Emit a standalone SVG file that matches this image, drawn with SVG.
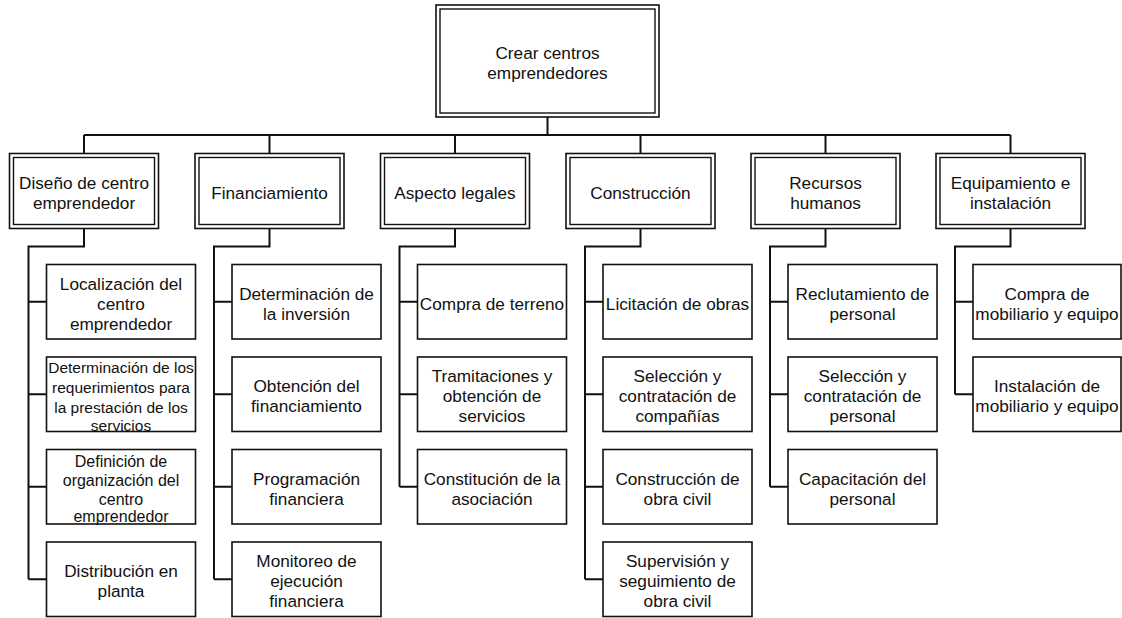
<svg xmlns="http://www.w3.org/2000/svg" width="1122" height="618" viewBox="0 0 1122 618">
  <style>
    .box { fill: #ffffff; stroke: #111111; stroke-width: 1.6; }
    .in { fill: none; stroke: #111111; stroke-width: 1.4; }
    .wire { fill: none; stroke: #111111; stroke-width: 2; }
    text { font-family: "Liberation Sans", Arial, sans-serif; font-size: 17.2px; fill: #111111; text-anchor: middle; }
    .s155 { font-size: 15.5px; }
    .s16 { font-size: 16px; }
  </style>
  <rect width="1122" height="618" fill="#ffffff"/>

  <!-- connectors -->
  <g id="connectors" class="wire">
    <path d="M547.5 117 V135 M84 135 H1010.5"/>
    <path d="M84 135 V153.5 M269.5 135 V153.5 M455 135 V153.5 M640.5 135 V153.5 M825.5 135 V153.5 M1010.5 135 V153.5"/>
    <!-- column 1 -->
    <path d="M84 228.5 V246.5 H28.5 V579.25"/>
    <path d="M28.5 301.75 H46.5 M28.5 394.25 H46.5 M28.5 486.75 H46.5 M28.5 579.25 H46.5"/>
    <!-- column 2 -->
    <path d="M269.5 228.5 V246.5 H214 V579.25"/>
    <path d="M214 301.75 H232 M214 394.25 H232 M214 486.75 H232 M214 579.25 H232"/>
    <!-- column 3 -->
    <path d="M455 228.5 V246.5 H399.5 V486.75"/>
    <path d="M399.5 301.75 H417.5 M399.5 394.25 H417.5 M399.5 486.75 H417.5"/>
    <!-- column 4 -->
    <path d="M640.5 228.5 V246.5 H585 V579.25"/>
    <path d="M585 301.75 H603 M585 394.25 H603 M585 486.75 H603 M585 579.25 H603"/>
    <!-- column 5 -->
    <path d="M825.5 228.5 V246.5 H770 V486.75"/>
    <path d="M770 301.75 H788 M770 394.25 H788 M770 486.75 H788"/>
    <!-- column 6 -->
    <path d="M1010.5 228.5 V246.5 H955 V394.25"/>
    <path d="M955 301.75 H973 M955 394.25 H973"/>
  </g>

  <!-- root -->
  <g id="root">
    <rect class="box" x="436" y="5" width="223" height="112"/>
    <rect class="in" x="440" y="9" width="215" height="104"/>
    <text x="547.5" y="59">Crear centros</text>
    <text x="547.5" y="79">emprendedores</text>
  </g>

  <!-- level 1 -->
  <g id="diseno">
    <rect class="box" x="9.5" y="153.5" width="149" height="75"/>
    <rect class="in" x="13.5" y="157.5" width="141" height="67"/>
    <text x="84" y="189">Diseño de centro</text>
    <text x="84" y="209">emprendedor</text>
  </g>
  <g id="financiamiento">
    <rect class="box" x="195" y="153.5" width="149" height="75"/>
    <rect class="in" x="199" y="157.5" width="141" height="67"/>
    <text x="269.5" y="199">Financiamiento</text>
  </g>
  <g id="legales">
    <rect class="box" x="380.5" y="153.5" width="149" height="75"/>
    <rect class="in" x="384.5" y="157.5" width="141" height="67"/>
    <text x="455" y="199">Aspecto legales</text>
  </g>
  <g id="construccion">
    <rect class="box" x="566" y="153.5" width="149" height="75"/>
    <rect class="in" x="570" y="157.5" width="141" height="67"/>
    <text x="640.5" y="199">Construcción</text>
  </g>
  <g id="recursos">
    <rect class="box" x="751" y="153.5" width="149" height="75"/>
    <rect class="in" x="755" y="157.5" width="141" height="67"/>
    <text x="825.5" y="189">Recursos</text>
    <text x="825.5" y="209">humanos</text>
  </g>
  <g id="equipamiento">
    <rect class="box" x="936" y="153.5" width="149" height="75"/>
    <rect class="in" x="940" y="157.5" width="141" height="67"/>
    <text x="1010.5" y="189">Equipamiento e</text>
    <text x="1010.5" y="209">instalación</text>
  </g>

  <!-- column 1 tasks -->
  <g id="localizacion">
    <rect class="box" x="46.5" y="264.5" width="149" height="74.5"/>
    <text x="121" y="289.75">Localización del</text>
    <text x="121" y="309.75">centro</text>
    <text x="121" y="329.75">emprendedor</text>
  </g>
  <g id="requerimientos">
    <rect class="box" x="46.5" y="357" width="149" height="74.5"/>
    <text class="s155" x="121" y="373">Determinación de los</text>
    <text class="s155" x="121" y="393">requerimientos para</text>
    <text class="s155" x="121" y="413">la prestación de los</text>
    <text class="s155" x="121" y="431">servicios</text>
  </g>
  <g id="organizacion">
    <rect class="box" x="46.5" y="449.5" width="149" height="74.5"/>
    <text class="s16" x="121" y="466.5">Definición de</text>
    <text class="s16" x="121" y="486">organización del</text>
    <text class="s16" x="121" y="505">centro</text>
    <text class="s16" x="121" y="522">emprendedor</text>
  </g>
  <g id="distribucion">
    <rect class="box" x="46.5" y="542" width="149" height="74.5"/>
    <text x="121" y="577.25">Distribución en</text>
    <text x="121" y="597.25">planta</text>
  </g>

  <!-- column 2 tasks -->
  <g id="inversion">
    <rect class="box" x="232" y="264.5" width="149" height="74.5"/>
    <text x="306.5" y="299.75">Determinación de</text>
    <text x="306.5" y="319.75">la inversión</text>
  </g>
  <g id="obtencion">
    <rect class="box" x="232" y="357" width="149" height="74.5"/>
    <text x="306.5" y="392.25">Obtención del</text>
    <text x="306.5" y="412.25">financiamiento</text>
  </g>
  <g id="programacion">
    <rect class="box" x="232" y="449.5" width="149" height="74.5"/>
    <text x="306.5" y="484.75">Programación</text>
    <text x="306.5" y="504.75">financiera</text>
  </g>
  <g id="monitoreo">
    <rect class="box" x="232" y="542" width="149" height="74.5"/>
    <text x="306.5" y="567.25">Monitoreo de</text>
    <text x="306.5" y="587.25">ejecución</text>
    <text x="306.5" y="607.25">financiera</text>
  </g>

  <!-- column 3 tasks -->
  <g id="terreno">
    <rect class="box" x="417.5" y="264.5" width="149" height="74.5"/>
    <text x="492" y="309.75">Compra de terreno</text>
  </g>
  <g id="tramitaciones">
    <rect class="box" x="417.5" y="357" width="149" height="74.5"/>
    <text x="492" y="382.25">Tramitaciones y</text>
    <text x="492" y="402.25">obtención de</text>
    <text x="492" y="422.25">servicios</text>
  </g>
  <g id="asociacion">
    <rect class="box" x="417.5" y="449.5" width="149" height="74.5"/>
    <text x="492" y="484.75">Constitución de la</text>
    <text x="492" y="504.75">asociación</text>
  </g>

  <!-- column 4 tasks -->
  <g id="licitacion">
    <rect class="box" x="603" y="264.5" width="149" height="74.5"/>
    <text x="677.5" y="309.75">Licitación de obras</text>
  </g>
  <g id="companias">
    <rect class="box" x="603" y="357" width="149" height="74.5"/>
    <text x="677.5" y="382.25">Selección y</text>
    <text x="677.5" y="402.25">contratación de</text>
    <text x="677.5" y="422.25">compañías</text>
  </g>
  <g id="obracivil">
    <rect class="box" x="603" y="449.5" width="149" height="74.5"/>
    <text x="677.5" y="484.75">Construcción de</text>
    <text x="677.5" y="504.75">obra civil</text>
  </g>
  <g id="supervision">
    <rect class="box" x="603" y="542" width="149" height="74.5"/>
    <text x="677.5" y="567.25">Supervisión y</text>
    <text x="677.5" y="587.25">seguimiento de</text>
    <text x="677.5" y="607.25">obra civil</text>
  </g>

  <!-- column 5 tasks -->
  <g id="reclutamiento">
    <rect class="box" x="788" y="264.5" width="149" height="74.5"/>
    <text x="862.5" y="299.75">Reclutamiento de</text>
    <text x="862.5" y="319.75">personal</text>
  </g>
  <g id="seleccion">
    <rect class="box" x="788" y="357" width="149" height="74.5"/>
    <text x="862.5" y="382.25">Selección y</text>
    <text x="862.5" y="402.25">contratación de</text>
    <text x="862.5" y="422.25">personal</text>
  </g>
  <g id="capacitacion">
    <rect class="box" x="788" y="449.5" width="149" height="74.5"/>
    <text x="862.5" y="484.75">Capacitación del</text>
    <text x="862.5" y="504.75">personal</text>
  </g>

  <!-- column 6 tasks -->
  <g id="compra-mobiliario">
    <rect class="box" x="973" y="264.5" width="148" height="74.5"/>
    <text x="1047" y="299.75">Compra de</text>
    <text x="1047" y="319.75">mobiliario y equipo</text>
  </g>
  <g id="instalacion">
    <rect class="box" x="973" y="357" width="148" height="74.5"/>
    <text x="1047" y="392.25">Instalación de</text>
    <text x="1047" y="412.25">mobiliario y equipo</text>
  </g>
</svg>
